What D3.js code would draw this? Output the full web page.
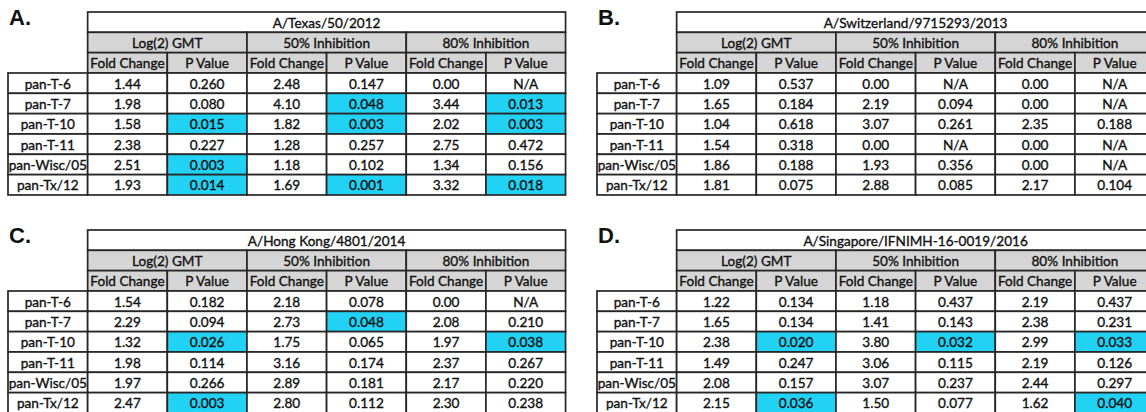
<!DOCTYPE html>
<html>
<head>
<meta charset="utf-8">
<script src="https://cdn.jsdelivr.net/npm/d3@7"></script>
<style>
  html, body { margin: 0; padding: 0; background: #fff; }
  svg { display: block; }
</style>
</head>
<body>
<svg id="chart" width="1146" height="412"></svg>
<script>
// Panel letters and virus strain titles
const panelLetters = ["A.", "B.", "C.", "D."];
const strainTitles = [
  "A/Texas/50/2012",
  "A/Switzerland/9715293/2013",
  "A/Hong Kong/4801/2014",
  "A/Singapore/IFNIMH-16-0019/2016"
];
const rowLabels = ["pan-T-6", "pan-T-7", "pan-T-10", "pan-T-11", "pan-Wisc/05", "pan-Tx/12"];
const groupLabels = ["Log(2) GMT", "50% Inhibition", "80% Inhibition"];
const subLabels = ["Fold Change", "P Value"];

// Columns: GMT fold, GMT p, 50% fold, 50% p, 80% fold, 80% p (null = N/A)
const texasValues = [
  [1.44, 0.260, 2.48, 0.147, 0.00, null],
  [1.98, 0.080, 4.10, 0.048, 3.44, 0.013],
  [1.58, 0.015, 1.82, 0.003, 2.02, 0.003],
  [2.38, 0.227, 1.28, 0.257, 2.75, 0.472],
  [2.51, 0.003, 1.18, 0.102, 1.34, 0.156],
  [1.93, 0.014, 1.69, 0.001, 3.32, 0.018]
];
const switzerlandValues = [
  [1.09, 0.537, 0.00, null, 0.00, null],
  [1.65, 0.184, 2.19, 0.094, 0.00, null],
  [1.04, 0.618, 3.07, 0.261, 2.35, 0.188],
  [1.54, 0.318, 0.00, null, 0.00, null],
  [1.86, 0.188, 1.93, 0.356, 0.00, null],
  [1.81, 0.075, 2.88, 0.085, 2.17, 0.104]
];
const hongKongValues = [
  [1.54, 0.182, 2.18, 0.078, 0.00, null],
  [2.29, 0.094, 2.73, 0.048, 2.08, 0.210],
  [1.32, 0.026, 1.75, 0.065, 1.97, 0.038],
  [1.98, 0.114, 3.16, 0.174, 2.37, 0.267],
  [1.97, 0.266, 2.89, 0.181, 2.17, 0.220],
  [2.47, 0.003, 2.80, 0.112, 2.30, 0.238]
];
const singaporeValues = [
  [1.22, 0.134, 1.18, 0.437, 2.19, 0.437],
  [1.65, 0.134, 1.41, 0.143, 2.38, 0.231],
  [2.38, 0.020, 3.80, 0.032, 2.99, 0.033],
  [1.49, 0.247, 3.06, 0.115, 2.19, 0.126],
  [2.08, 0.157, 3.07, 0.237, 2.44, 0.297],
  [2.15, 0.036, 1.50, 0.077, 1.62, 0.040]
];
const panelValues = [texasValues, switzerlandValues, hongKongValues, singaporeValues];
const significance = 0.05;

// Panel placement on the page
const panelOrigins = [[8, 12], [597, 12], [8, 230], [597, 230]];
const colWidth = 79.65, rowHeight = 20.33;

const FONT = "Lato, 'Liberation Sans', sans-serif";
const BORDER = "#262626";
const HEADER_FILL = "#d5d5d5";
const HILITE = "#22d2f4";
const TEXT = "#111";

const fmtFold = d3.format(".2f");
const fmtP = d3.format(".3f");

const svg = d3.select("#chart");

panelLetters.forEach((letter, pi) => {
  const [x0, y0] = panelOrigins[pi];
  const values = panelValues[pi];
  const nCols = 7, nRows = 3 + rowLabels.length;

  const x = d3.scaleBand().domain(d3.range(nCols)).range([x0, x0 + colWidth * nCols]);
  const y = d3.scaleBand().domain(d3.range(nRows)).range([y0, y0 + rowHeight * nRows]);

  const g = svg.append("g");

  // Build the cell list: column, row, column span, text, fill
  const cells = [];
  cells.push({ c: 1, r: 0, span: 6, text: strainTitles[pi], fill: "#fff" });
  groupLabels.forEach((lab, i) => cells.push({ c: 1 + 2 * i, r: 1, span: 2, text: lab, fill: HEADER_FILL }));
  groupLabels.forEach((_, i) => subLabels.forEach((lab, j) =>
    cells.push({ c: 1 + 2 * i + j, r: 2, span: 1, text: lab, fill: HEADER_FILL })));
  rowLabels.forEach((lab, ri) => {
    cells.push({ c: 0, r: 3 + ri, span: 1, text: lab, fill: "#fff" });
    values[ri].forEach((v, ci) => {
      const isP = ci % 2 === 1;
      const text = v === null ? "N/A" : (isP ? fmtP(v) : fmtFold(v));
      const fill = isP && v !== null && v < significance ? HILITE : "#fff";
      cells.push({ c: 1 + ci, r: 3 + ri, span: 1, text, fill });
    });
  });

  const cell = g.selectAll("g.cell").data(cells).join("g").attr("class", "cell");
  cell.append("rect")
    .attr("x", d => x(d.c))
    .attr("y", d => y(d.r))
    .attr("width", d => x.bandwidth() * d.span)
    .attr("height", y.bandwidth())
    .attr("fill", d => d.fill)
    .attr("stroke", BORDER)
    .attr("stroke-width", 1.7);
  cell.append("text")
    .attr("x", d => x(d.c) + x.bandwidth() * d.span / 2)
    .attr("y", d => y(d.r) + y.bandwidth() / 2 + 5.6)
    .attr("text-anchor", "middle")
    .attr("font-family", FONT)
    .attr("font-size", 13.6)
    .attr("fill", TEXT)
    .attr("stroke", TEXT)
    .attr("stroke-width", 0.35)
    .text(d => d.text);

  // Panel letter
  svg.append("text")
    .attr("x", x0 + 1)
    .attr("y", y0 + 13)
    .attr("font-family", "'Liberation Sans', Arial, sans-serif")
    .attr("font-weight", "bold")
    .attr("font-size", 22)
    .attr("fill", "#111")
    .text(letter);
});
</script>
</body>
</html>
